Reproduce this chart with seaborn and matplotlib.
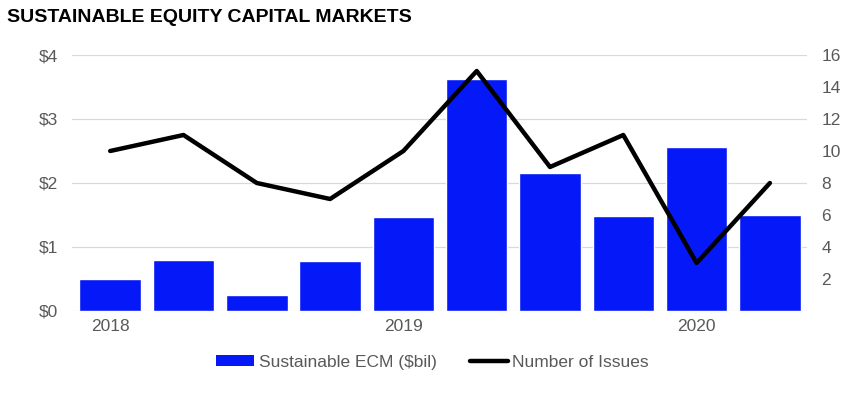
import matplotlib
matplotlib.use("Agg")
import matplotlib.pyplot as plt
import seaborn as sns
import pandas as pd
from matplotlib.lines import Line2D
from matplotlib.patches import Patch

quarters = ["2018 Q1", "2018 Q2", "2018 Q3", "2018 Q4",
            "2019 Q1", "2019 Q2", "2019 Q3", "2019 Q4",
            "2020 Q1", "2020 Q2"]
ecm_values = [0.50, 0.80, 0.25, 0.78, 1.47, 3.62, 2.16, 1.48, 2.56, 1.50]
num_issues = [10, 11, 8, 7, 10, 15, 9, 11, 3, 8]
year_labels = ["2018", "2019", "2020"]
year_positions = [0, 4, 8]
left_ticks = [0, 1, 2, 3, 4]
left_tick_labels = ["$0", "$1", "$2", "$3", "$4"]
right_ticks = [2, 4, 6, 8, 10, 12, 14, 16]

sns.set_theme(style="white")
plt.rcParams["font.family"] = ["Liberation Sans", "DejaVu Sans"]

df = pd.DataFrame({"quarter": quarters, "ecm": ecm_values, "issues": num_issues,
                   "pos": list(range(len(quarters)))})

fig = plt.figure(figsize=(8.48, 3.94), dpi=100)
ax = fig.add_axes([0.085, 0.2107, 0.867, 0.6497])
bar_color = "#0519F8"
grey = "#595959"

sns.barplot(data=df, x="pos", y="ecm", color=bar_color, saturation=1,
            width=0.84, ax=ax, zorder=2)
ax.set_ylim(0, 4)
ax.set_xlim(-0.52, 9.51)
ax.set_yticks(left_ticks)
ax.set_yticklabels(left_tick_labels)
ax.set_xticks(year_positions)
ax.set_xticklabels(year_labels)
ax.set_xlabel("")
ax.set_ylabel("")
ax.grid(axis="y", color="#d9d9d9", linewidth=0.9, zorder=0)
ax.set_axisbelow(True)
for s in ax.spines.values():
    s.set_visible(False)
ax.tick_params(axis="both", length=0, labelsize=12.5, colors=grey)
ax.tick_params(axis="y", pad=10)
ax.tick_params(axis="x", pad=6)

ax2 = ax.twinx()
sns.lineplot(data=df, x="pos", y="issues", color="black", linewidth=3.2,
             ax=ax2, zorder=3)
ax2.set_ylim(0, 16)
ax2.set_yticks(right_ticks)
ax2.set_xlim(-0.52, 9.51)
ax2.set_ylabel("")
ax2.set_xlabel("")
for s in ax2.spines.values():
    s.set_visible(False)
ax2.tick_params(axis="y", length=0, labelsize=12.5, colors=grey, pad=10)
ax2.grid(False)

fig.text(0.008, 0.955, "SUSTAINABLE EQUITY CAPITAL MARKETS", fontsize=14,
         fontweight="bold", color="black", ha="left", va="center")

handles = [Patch(facecolor=bar_color, edgecolor="none"),
           Line2D([0], [0], color="black", linewidth=3.2)]
fig.legend(handles, ["Sustainable ECM ($bil)", "Number of Issues"],
           loc="center", bbox_to_anchor=(0.51, 0.08), ncol=2, frameon=False,
           fontsize=12.5, labelcolor=grey, handlelength=2.2, handletextpad=0.25,
           columnspacing=1.9, handleheight=0.6)

fig.savefig("out.png", dpi=100)
